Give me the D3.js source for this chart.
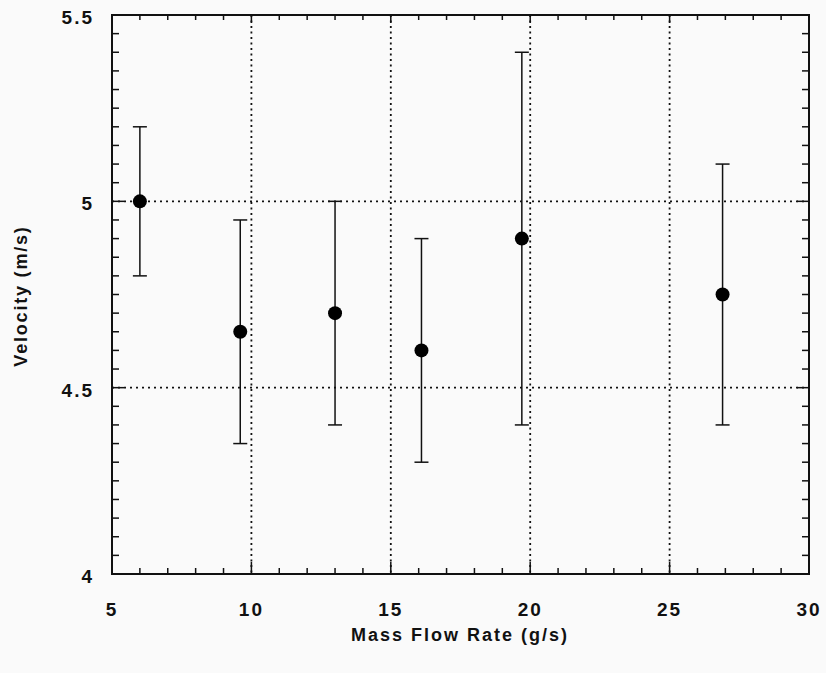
<!DOCTYPE html>
<html>
<head>
<meta charset="utf-8">
<script src="https://cdn.jsdelivr.net/npm/d3@7"></script>
<style>
  body { margin: 0; background: #fafafa; }
  svg { display: block; }
  text { font-family: "Liberation Sans", Arial, sans-serif; font-weight: bold; fill: #111; }
</style>
</head>
<body>
<div id="chart"></div>
<script>
// mass flow rate (g/s)
const flowRates = [6.0, 9.6, 13.0, 16.1, 19.7, 26.9];
// measured velocity (m/s)
const velocities = [5.0, 4.65, 4.7, 4.6, 4.9, 4.75];
const errLow = [4.8, 4.35, 4.4, 4.3, 4.4, 4.4];
const errHigh = [5.2, 4.95, 5.0, 4.9, 5.4, 5.1];

const xTicks = [5, 10, 15, 20, 25, 30];
const yTicks = [4, 4.5, 5, 5.5];
const xGrid = [10, 15, 20, 25];
const yGrid = [4.5, 5];

const width = 826, height = 673;
const margin = {top: 15, right: 17, bottom: 99, left: 112};

const svg = d3.select("#chart").append("svg")
    .attr("width", width)
    .attr("height", height);

const x = d3.scaleLinear().domain([5, 30]).range([margin.left, width - margin.right]);
const y = d3.scaleLinear().domain([4, 5.5]).range([height - margin.bottom, margin.top]);

const x0 = x.range()[0], x1 = x.range()[1];
const y0 = y.range()[0], y1 = y.range()[1];

// dotted grid
svg.append("g").selectAll("line").data(xGrid).join("line")
    .attr("x1", d => x(d)).attr("x2", d => x(d))
    .attr("y1", y1).attr("y2", y0)
    .attr("stroke", "#111").attr("stroke-width", 1.8)
    .attr("stroke-dasharray", "2,3.5");
svg.append("g").selectAll("line").data(yGrid).join("line")
    .attr("x1", x0).attr("x2", x1)
    .attr("y1", d => y(d)).attr("y2", d => y(d))
    .attr("stroke", "#111").attr("stroke-width", 1.6)
    .attr("stroke-dasharray", "2,4");

// inward ticks on all four sides
const xMinor = d3.range(5, 30.001, 1);
const yMinor = d3.range(4, 5.5001, 0.05);
const isMajorX = d => Math.abs(d % 5) < 1e-6;
const isMajorY = d => Math.abs((d * 2) - Math.round(d * 2)) < 1e-6;

const ticks = svg.append("g").attr("stroke", "#111").attr("stroke-width", 1.5);
ticks.selectAll(".xb").data(xMinor).join("line")
    .attr("x1", d => x(d)).attr("x2", d => x(d))
    .attr("y1", y0).attr("y2", d => y0 - (isMajorX(d) ? 12 : 6));
ticks.selectAll(".xt").data(xMinor).join("line")
    .attr("x1", d => x(d)).attr("x2", d => x(d))
    .attr("y1", y1).attr("y2", d => y1 + (isMajorX(d) ? 8 : 5));
ticks.selectAll(".yl").data(yMinor).join("line")
    .attr("y1", d => y(d)).attr("y2", d => y(d))
    .attr("x1", x0).attr("x2", d => x0 + (isMajorY(d) ? 12 : 7));
ticks.selectAll(".yr").data(yMinor).join("line")
    .attr("y1", d => y(d)).attr("y2", d => y(d))
    .attr("x1", x1).attr("x2", d => x1 - (isMajorY(d) ? 12 : 7));

// frame
svg.append("rect")
    .attr("x", x0).attr("y", y1)
    .attr("width", x1 - x0).attr("height", y0 - y1)
    .attr("fill", "none").attr("stroke", "#111").attr("stroke-width", 2);

// tick labels
svg.append("g").selectAll("text").data(xTicks).join("text")
    .attr("x", d => x(d)).attr("y", 616)
    .attr("text-anchor", "middle")
    .attr("font-size", 19).attr("letter-spacing", 2)
    .text(d => d);
svg.append("g").selectAll("text").data(yTicks).join("text")
    .attr("x", 94).attr("y", d => y(d) + 9)
    .attr("text-anchor", "end")
    .attr("font-size", 19).attr("letter-spacing", 2)
    .text(d => d);

// error bars
const bars = svg.append("g").attr("stroke", "#111").attr("stroke-width", 1.5);
flowRates.forEach((f, i) => {
    const cx = x(f);
    bars.append("line").attr("x1", cx).attr("x2", cx)
        .attr("y1", y(errLow[i])).attr("y2", y(errHigh[i]));
    bars.append("line").attr("x1", cx - 7).attr("x2", cx + 7)
        .attr("y1", y(errLow[i])).attr("y2", y(errLow[i]));
    bars.append("line").attr("x1", cx - 7).attr("x2", cx + 7)
        .attr("y1", y(errHigh[i])).attr("y2", y(errHigh[i]));
});

// points
svg.append("g").selectAll("circle").data(flowRates).join("circle")
    .attr("cx", d => x(d))
    .attr("cy", (d, i) => y(velocities[i]))
    .attr("r", 7)
    .attr("fill", "#000");

// axis titles
svg.append("text")
    .attr("x", 460).attr("y", 641)
    .attr("text-anchor", "middle")
    .attr("font-size", 18).attr("letter-spacing", 2)
    .text("Mass Flow Rate (g/s)");
svg.append("text")
    .attr("transform", `translate(27,296) rotate(-90)`)
    .attr("text-anchor", "middle")
    .attr("font-size", 18).attr("letter-spacing", 1.8)
    .text("Velocity (m/s)");
</script>
</body>
</html>
